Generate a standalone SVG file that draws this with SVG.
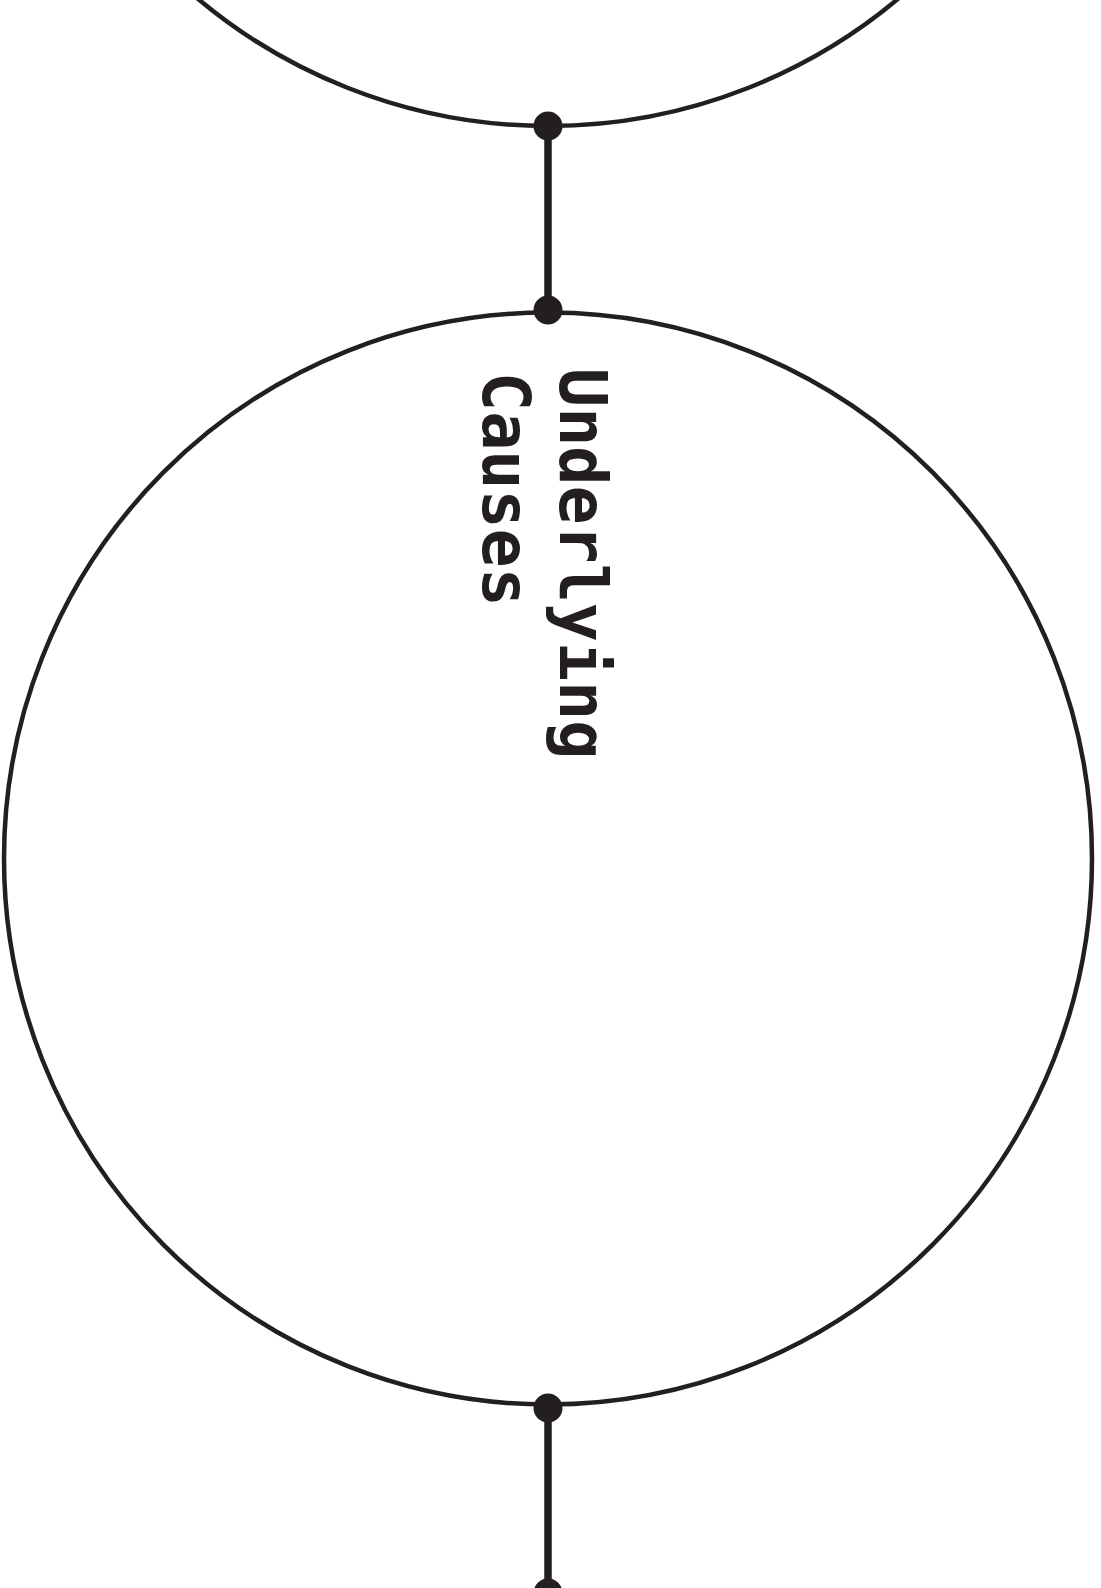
<svg xmlns="http://www.w3.org/2000/svg" width="1101" height="1588" viewBox="0 0 1101 1588">
<style>
.ring{fill:none;stroke:#231f20;stroke-width:4.5}
.link{stroke:#231f20;stroke-width:7.5;fill:none}
.dot{fill:#231f20}
.label{font-family:"DejaVu Sans Mono","Liberation Mono",monospace;font-weight:bold;font-size:65px;fill:#231f20}
</style>
<rect width="1101" height="1588" fill="#ffffff"/>
<g id="node-top">
<circle class="ring" cx="548" cy="-419" r="545"/>
</g>
<g id="node-underlying-causes">
<ellipse class="ring" cx="548" cy="858.5" rx="544" ry="546"/>
<text class="label" transform="translate(560,368) rotate(90)"><tspan x="0" y="0">Underlying</tspan><tspan x="4" y="77">Causes</tspan></text>
</g>
<g id="connectors">
<line class="link" x1="548" y1="126" x2="548" y2="310"/>
<line class="link" x1="548" y1="1408" x2="548" y2="1593"/>
<circle class="dot" cx="548" cy="126" r="14.5"/>
<circle class="dot" cx="548" cy="310" r="14.5"/>
<circle class="dot" cx="548" cy="1408" r="14.5"/>
<circle class="dot" cx="548" cy="1593" r="14.5"/>
</g>
</svg>
